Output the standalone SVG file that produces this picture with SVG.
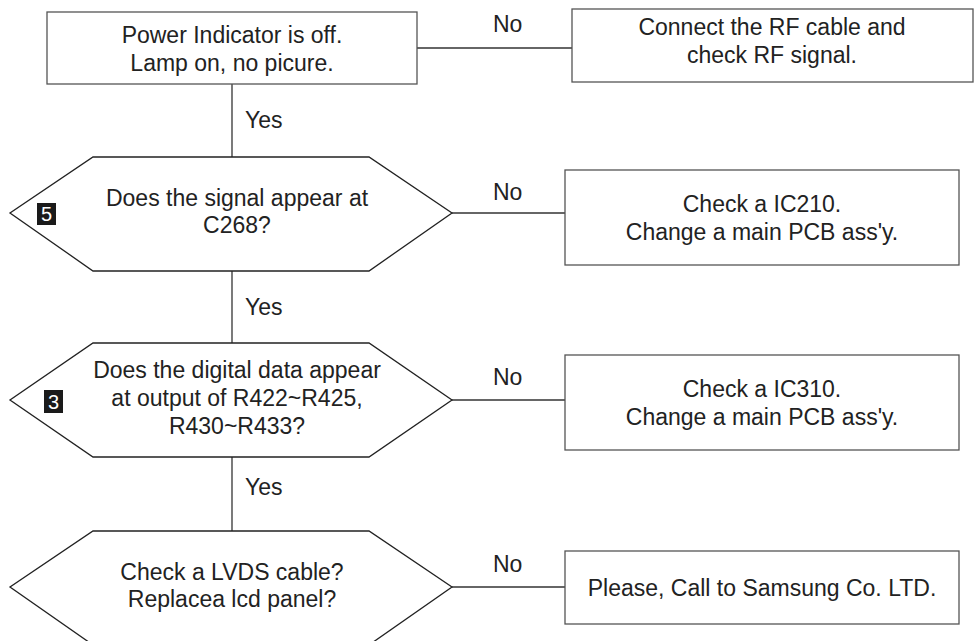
<svg xmlns="http://www.w3.org/2000/svg" width="975" height="641" viewBox="0 0 975 641">
<style>
.box{fill:#fff;stroke:#555;stroke-width:1.3}
.hex{fill:#fff;stroke:#222;stroke-width:1.3}
.ln{fill:none;stroke:#333;stroke-width:1.3}
text{font-family:"Liberation Sans",Arial,sans-serif;font-size:23px;fill:#222}
.c{text-anchor:middle}
.badge{fill:#1a1a1a}
.bt{fill:#fff;font-size:20px;text-anchor:middle}
</style>
<rect width="975" height="641" fill="#fff"/>
<g id="connectors">
<line class="ln" x1="232" y1="84" x2="232" y2="157"/>
<line class="ln" x1="232" y1="271" x2="232" y2="343"/>
<line class="ln" x1="232" y1="457" x2="232" y2="531"/>
<line class="ln" x1="417" y1="48" x2="572" y2="48"/>
<line class="ln" x1="452" y1="213" x2="565" y2="213"/>
<line class="ln" x1="452" y1="400" x2="565" y2="400"/>
<line class="ln" x1="452" y1="587" x2="565" y2="587"/>
<text x="245" y="128">Yes</text>
<text x="245" y="315">Yes</text>
<text x="245" y="495">Yes</text>
<text x="493" y="32">No</text>
<text x="493" y="200">No</text>
<text x="493" y="385">No</text>
<text x="493" y="572">No</text>
</g>
<g id="start">
<rect class="box" x="47" y="12" width="370" height="72"/>
<text class="c" x="232" y="43">Power Indicator is off.</text>
<text class="c" x="232" y="71">Lamp on, no picure.</text>
</g>
<g id="rf">
<rect class="box" x="572" y="9" width="401" height="73"/>
<text class="c" x="772" y="35">Connect the RF cable and</text>
<text class="c" x="772" y="63">check RF signal.</text>
</g>
<g id="q1">
<polygon class="hex" points="93,157 369,157 452,213 369,271 93,271 10,213"/>
<rect class="badge" x="37" y="203" width="19" height="22"/>
<text class="bt" x="46.5" y="221">5</text>
<text class="c" x="237" y="206">Does the signal appear at</text>
<text class="c" x="237" y="233">C268?</text>
</g>
<g id="ic210">
<rect class="box" x="565" y="170" width="394" height="95"/>
<text class="c" x="762" y="212">Check a IC210.</text>
<text class="c" x="762" y="240">Change a main PCB ass'y.</text>
</g>
<g id="q2">
<polygon class="hex" points="93,343 369,343 452,400 369,457 93,457 10,400"/>
<rect class="badge" x="44" y="390" width="19" height="23"/>
<text class="bt" x="53.5" y="409">3</text>
<text class="c" x="237" y="378">Does the digital data appear</text>
<text class="c" x="237" y="406">at output of R422~R425,</text>
<text class="c" x="237" y="434">R430~R433?</text>
</g>
<g id="ic310">
<rect class="box" x="565" y="355" width="394" height="95"/>
<text class="c" x="762" y="397">Check a IC310.</text>
<text class="c" x="762" y="425">Change a main PCB ass'y.</text>
</g>
<g id="q3">
<polygon class="hex" points="93,531 369,531 452,587 369,645 93,645 10,587"/>
<text class="c" x="232" y="580">Check a LVDS cable?</text>
<text class="c" x="232" y="607">Replacea lcd panel?</text>
</g>
<g id="samsung">
<rect class="box" x="565" y="551" width="394" height="73"/>
<text class="c" x="762" y="596">Please, Call to Samsung Co. LTD.</text>
</g>
</svg>
